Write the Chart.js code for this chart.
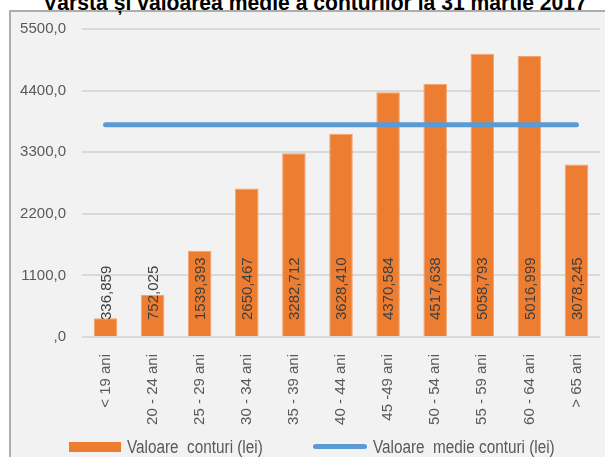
<!DOCTYPE html>
<html>
<head>
<meta charset="utf-8">
<script src="https://cdn.jsdelivr.net/npm/chart.js@4"></script>
<style>
  body { margin: 0; background: #fff; }
  #wrap { position: relative; width: 605px; height: 457px; overflow: hidden; font-family: 'Liberation Sans', Arial, sans-serif; }
  #box { position: absolute; left: 9px; top: 10px; width: 640px; height: 480px; background: #f2f2f2; border-left: 2px solid #adadad; border-top: 2px solid #adadad; }
  #title { position: absolute; left: 315px; top: -8px; transform: translateX(-50%) scaleX(0.96); white-space: nowrap; font-weight: bold; font-size: 22px; line-height: 22px; color: #000; }
  #chart { position: absolute; left: 0; top: 0; }
  .leg { position: absolute; top: 437px; font-size: 18px; line-height: 20px; color: #595959; white-space: pre; transform: scaleX(0.85); transform-origin: left center; }
  .sw { position: absolute; }
</style>
</head>
<body>
<div id="wrap">
  <div id="box"></div>
  <div id="title">Vârsta și valoarea medie a conturilor la 31 martie 2017</div>
  <canvas id="chart" width="605" height="457"></canvas>
  <div id="legend"></div>
</div>
<script>
const ageGroups = ['< 19 ani', '20 - 24 ani', '25 - 29 ani', '30 - 34 ani', '35 - 39 ani', '40 - 44 ani',
                   '45 -49 ani', '50 - 54 ani', '55 - 59 ani', '60 - 64 ani', '> 65 ani'];
const accountValues = [336.859, 752.025, 1539.393, 2650.467, 3282.712, 3628.410,
                       4370.584, 4517.638, 5058.793, 5016.999, 3078.245];
const meanValues = [3790, 3790, 3790, 3790, 3790, 3790, 3790, 3790, 3790, 3790, 3790];
const yTicks = [0, 1100, 2200, 3300, 4400, 5500];

const FONT = "'Liberation Sans', Arial, sans-serif";
const fmt = (v, d) => v === 0 ? ',0' : v.toFixed(d).replace('.', ',');

/* value labels, written upward from near the base of each bar */
const barLabels = {
    id: 'barLabels',
    afterDatasetsDraw(chart) {
        const ctx = chart.ctx;
        const base = chart.scales.y.getPixelForValue(0);
        chart.getDatasetMeta(0).data.forEach((bar, i) => {
            ctx.save();
            ctx.translate(bar.x + 1, base - 17);
            ctx.rotate(-Math.PI / 2);
            ctx.font = '15px ' + FONT;
            ctx.fillStyle = '#404040';
            ctx.textAlign = 'left';
            ctx.textBaseline = 'middle';
            ctx.fillText(fmt(accountValues[i], 3), 0, 0);
            ctx.restore();
        });
    }
};

const chart = new Chart(document.getElementById('chart'), {
    type: 'bar',
    data: {
        labels: ageGroups,
        datasets: [{
            label: 'Valoare  conturi (lei)',
            data: accountValues,
            backgroundColor: '#ed7d31',
            borderColor: '#f3a46f',
            borderWidth: 1,
            barPercentage: 0.5,
            categoryPercentage: 1,
            order: 1
        }, {
            type: 'line',
            label: 'Valoare  medie conturi (lei)',
            data: meanValues,
            borderColor: '#5b9bd5',
            borderWidth: 5,
            borderCapStyle: 'round',
            pointRadius: 0,
            order: 0
        }]
    },
    options: {
        responsive: false,
        animation: false,
        layout: { padding: { left: 0, right: 5, top: 29, bottom: 30 } },
        plugins: {
            legend: { display: false },
            tooltip: { enabled: false }
        },
        scales: {
            x: {
                grid: { display: false },
                border: { display: false },
                afterFit: s => { s.height = 90; },
                ticks: {
                    minRotation: 90, maxRotation: 90, padding: 9, autoSkip: false,
                    color: '#595959', font: { family: FONT, size: 15 }
                }
            },
            y: {
                min: 0, max: 5500,
                afterFit: s => { s.width = 82; },
                afterBuildTicks: s => { s.ticks = yTicks.map(v => ({ value: v })); },
                grid: { color: '#d9d9d9', lineWidth: 2, drawTicks: false },
                border: { display: false },
                ticks: {
                    padding: 16, color: '#595959', font: { family: FONT, size: 15 },
                    callback: v => fmt(v, 1)
                }
            }
        }
    },
    plugins: [barLabels]
});

/* legend in HTML, built from the dataset labels and colours */
const legend = document.getElementById('legend');
const ds = chart.data.datasets;
legend.innerHTML =
    '<span class="sw" style="left:69px;top:442px;width:52px;height:10px;background:' + ds[0].backgroundColor + '"></span>' +
    '<span class="leg" style="left:127px">' + ds[0].label + '</span>' +
    '<span class="sw" style="left:313px;top:444px;width:54px;height:5px;border-radius:3px;background:' + ds[1].borderColor + '"></span>' +
    '<span class="leg" style="left:373px">' + ds[1].label + '</span>';
</script>
</body>
</html>
